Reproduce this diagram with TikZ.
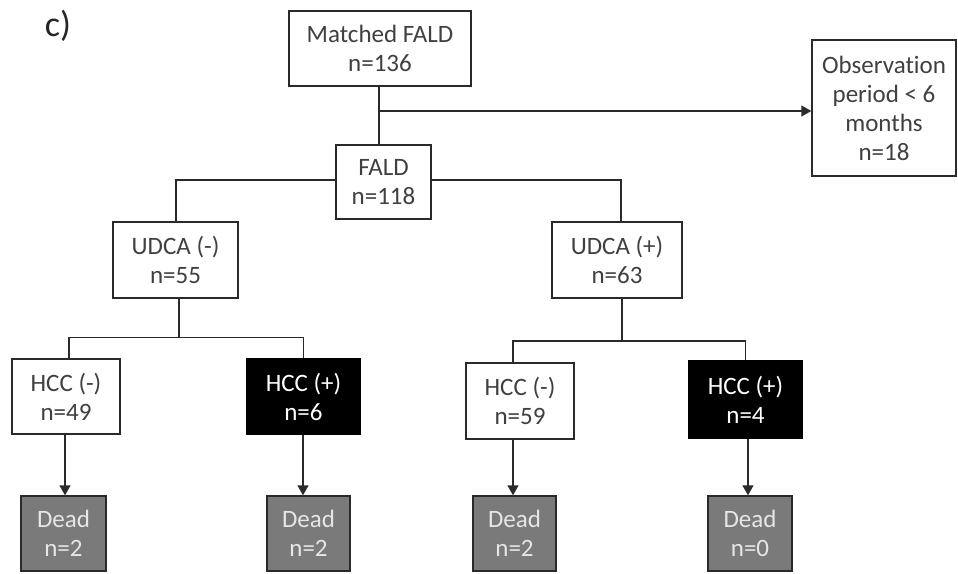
\documentclass[tikz,border=0pt]{standalone}
\usepackage{fontspec}
\setmainfont{Carlito}[Ligatures=NoCommon]
\usetikzlibrary{arrows.meta}
\definecolor{deadfill}{HTML}{7A7A7A}
\definecolor{deadtext}{HTML}{E6E6E6}
\definecolor{linecol}{HTML}{2A2A2A}
\begin{document}
\begin{tikzpicture}[x=1pt,y=-1pt,
  box/.style n args={2}{draw=linecol, line width=1.4pt, fill=white, rectangle,
    inner sep=0pt, minimum width=#1pt, minimum height=#2pt, align=center,
    font=\fontsize{25}{29}\selectfont, text=black!75},
  hccp/.style={fill=black, draw=black, text=white},
  dead/.style={fill=deadfill, draw=linecol, text=deadtext},
  conn/.style={draw=linecol, line width=1.4pt},
  arr/.style={conn, -{Triangle[length=10pt,width=11pt]}}]
\useasboundingbox (0,0) rectangle (958,573);
\node[font=\fontsize{36}{40}\selectfont, text=black!85] (lbl) at (58,26) {c)};
\node[box={182}{75}] (m) at (380,48.5) {Matched FALD\\n=136};
\node[box={144}{136}] (o) at (884,108) {Observation\\period < 6\\months\\n=18};
\node[box={95}{74}] (f) at (383.5,182) {FALD\\n=118};
\node[box={125}{76}] (u1) at (175.5,260) {UDCA (-)\\n=55};
\node[box={130}{76}] (u2) at (617,260) {UDCA (+)\\n=63};
\node[box={108}{75}] (h1) at (66,396.5) {HCC (-)\\n=49};
\node[box={113}{75}, hccp] (h2) at (303.5,396.5) {HCC (+)\\n=6};
\node[box={108}{76}] (h3) at (520,401) {HCC (-)\\n=59};
\node[box={113}{77}, hccp] (h4) at (745.5,399.5) {HCC (+)\\n=4};
\node[box={85}{75}, dead] (d1) at (63.5,533.5) {Dead\\n=2};
\node[box={83}{75}, dead] (d2) at (308.5,533.5) {Dead\\n=2};
\node[box={83}{75}, dead] (d3) at (514.5,533.5) {Dead\\n=2};
\node[box={84}{75}, dead] (d4) at (750,533.5) {Dead\\n=0};
% top
\coordinate (j1) at (379,111);
\draw[conn] (m.south -| j1) -- (j1 |- f.north);
\draw[arr] (j1) -- (j1 -| o.west);
% FALD branches
\coordinate (fl) at (176,180);
\coordinate (fr) at (621,180);
\draw[conn] (fl |- u1.north) -- (fl) -- (fl -| f.west);
\draw[conn] (fr |- u2.north) -- (fr) -- (fr -| f.east);
% UDCA(-) branches
\coordinate (b1) at (179,337.5);
\draw[conn] (u1.south -| b1) -- (b1);
\draw[conn] (h1.north -| 69,0) |- (b1) -| (h2.north);
% UDCA(+) branches
\coordinate (b2) at (622,341);
\draw[conn] (u2.south -| b2) -- (b2);
\draw[conn] (h3.north -| 513,0) |- (b2) -| (h4.north);
% arrows to dead
\draw[arr] (h1.south -| 65,0) -- (d1.north -| 65,0);
\draw[arr] (h2.south -| 303,0) -- (d2.north -| 303,0);
\draw[arr] (h3.south -| 513,0) -- (d3.north -| 513,0);
\draw[arr] (h4.south -| 748,0) -- (d4.north -| 748,0);
\end{tikzpicture}
\end{document}
